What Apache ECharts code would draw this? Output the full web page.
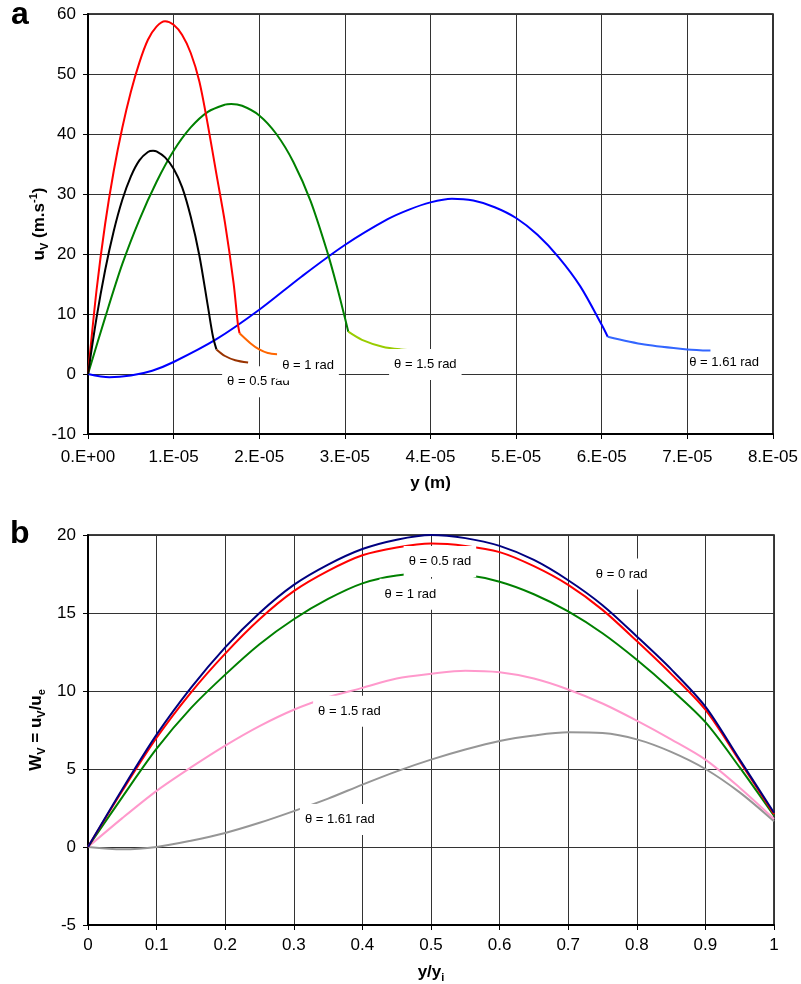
<!DOCTYPE html>
<html>
<head>
<meta charset="utf-8">
<script src="https://cdn.jsdelivr.net/npm/echarts@6/dist/echarts.min.js"></script>
<style>
html,body{margin:0;padding:0;background:#fff;}
#chart{width:801px;height:984px;}
</style>
</head>
<body>
<div id="chart"></div>
<script>
// ---------- Panel a : u_V (m/s) versus y (m) ----------
const aXTicks = [0, 1e-5, 2e-5, 3e-5, 4e-5, 5e-5, 6e-5, 7e-5, 8e-5];
const aYTicks = [-10, 0, 10, 20, 30, 40, 50, 60];

const theta05Main = [[0,0],[0.1e-5,9.4],[0.2e-5,17.3],[0.3e-5,23.8],[0.4e-5,29.0],[0.5e-5,32.9],[0.6e-5,35.6],[0.7e-5,37.0],[0.76e-5,37.2],[0.8e-5,37.1],[0.9e-5,36.1],[1.0e-5,34.2],[1.1e-5,31.1],[1.2e-5,26.2],[1.3e-5,19.8],[1.4e-5,11.3],[1.46e-5,6.2],[1.5e-5,4.1]];
const theta05Tail = [[1.5e-5,4.1],[1.6e-5,3.0],[1.72e-5,2.3],[1.87e-5,1.9]];
const theta1Main  = [[0,0],[0.1e-5,14.0],[0.2e-5,25.0],[0.3e-5,33.8],[0.4e-5,41.0],[0.5e-5,47.0],[0.6e-5,51.9],[0.7e-5,55.7],[0.8e-5,57.9],[0.9e-5,58.8],[1.0e-5,58.2],[1.1e-5,56.5],[1.2e-5,53.5],[1.3e-5,48.8],[1.4e-5,41.5],[1.5e-5,33.3],[1.6e-5,25.2],[1.7e-5,15.2],[1.75e-5,8.4],[1.77e-5,6.8]];
const theta1Tail  = [[1.77e-5,6.8],[1.9e-5,5.1],[2.0e-5,4.1],[2.1e-5,3.5],[2.21e-5,3.3]];
const theta15Main = [[0,0],[0.2e-5,9.4],[0.4e-5,18.3],[0.6e-5,25.7],[0.8e-5,32.0],[1.0e-5,37.2],[1.2e-5,41.1],[1.4e-5,43.7],[1.6e-5,44.9],[1.673e-5,45.0],[1.8e-5,44.7],[2.0e-5,43.1],[2.2e-5,40.0],[2.4e-5,35.3],[2.6e-5,28.8],[2.8e-5,20.1],[2.9e-5,15.0],[3.0e-5,9.4],[3.04e-5,7.05]];
const theta15Tail = [[3.04e-5,7.05],[3.2e-5,5.7],[3.44e-5,4.55],[3.65e-5,4.1],[3.85e-5,3.9]];
const theta161Main = [[0,0],[0.25e-5,-0.55],[0.5e-5,-0.25],[0.75e-5,0.55],[1.0e-5,2.0],[1.5e-5,5.8],[2.0e-5,10.7],[2.5e-5,16.3],[3.0e-5,21.5],[3.5e-5,25.8],[3.75e-5,27.4],[4.0e-5,28.6],[4.25e-5,29.2],[4.5e-5,28.9],[4.75e-5,27.8],[5.0e-5,26.0],[5.25e-5,23.2],[5.5e-5,19.4],[5.75e-5,14.6],[6.0e-5,8.2],[6.07e-5,6.2]];
const theta161Tail = [[6.07e-5,6.2],[6.5e-5,4.9],[7.0e-5,4.1],[7.27e-5,3.9]];

// ---------- Panel b : W_V = u_V/u_e versus y/y_i ----------
const bXTicks = [0,0.1,0.2,0.3,0.4,0.5,0.6,0.7,0.8,0.9,1];
const bYTicks = [-5,0,5,10,15,20];
const bX        = [0,0.05,0.1,0.15,0.2,0.25,0.3,0.35,0.4,0.45,0.5,0.55,0.6,0.65,0.7,0.75,0.8,0.85,0.9,0.95,1.0];
const wTheta0   = [0,3.7,7.2,10.2,12.8,15.0,16.8,18.1,19.1,19.7,20.0,19.8,19.3,18.4,17.1,15.5,13.5,11.4,9.0,5.6,2.2];
const wTheta05  = [0,3.6,7.0,9.9,12.4,14.6,16.4,17.7,18.7,19.2,19.45,19.3,18.9,18.0,16.8,15.2,13.2,11.1,8.8,5.5,2.1];
const wTheta1   = [0,3.2,6.3,8.9,11.05,13.0,14.6,15.9,16.9,17.4,17.55,17.45,17.0,16.2,15.1,13.7,12.0,10.1,8.0,5.1,2.0];
const wTheta15  = [0,1.85,3.6,5.1,6.5,7.75,8.8,9.6,10.2,10.8,11.1,11.3,11.2,10.8,10.1,9.2,8.1,6.9,5.6,3.8,1.8];
const wTheta161 = [0,-0.15,0,0.4,0.9,1.55,2.3,3.1,4.0,4.85,5.6,6.25,6.8,7.15,7.35,7.3,6.9,6.1,5.0,3.5,1.65];

const FONT = 'Liberation Sans, Arial, Helvetica, sans-serif';

function pairs(xs, ys){ return xs.map((x,i)=>[x, ys[i]]); }

function labelMark(coord, text, withBg, z){
  return {
    symbol: 'rect', symbolSize: 1, silent: true, z: z || 5,
    itemStyle: {color: 'rgba(0,0,0,0)'},
    data: [{
      coord: coord,
      label: {
        show: true, position: 'inside', formatter: text,
        color: '#000', fontSize: 13, fontFamily: FONT,
        backgroundColor: withBg ? '#fff' : 'transparent',
        padding: withBg ? [9, 5] : 0
      }
    }]
  };
}

function line(name, data, color, xi, mark){
  const s = {
    name: name, type: 'line', data: data, xAxisIndex: xi, yAxisIndex: xi,
    showSymbol: false, symbol: 'none', smooth: 0.3, clip: false,
    lineStyle: {color: color, width: 2}, itemStyle: {color: color},
    emphasis: {disabled: true}, silent: true
  };
  if (mark) s.markPoint = mark;
  return s;
}

const axisCommon = {
  type: 'value',
  axisLine: {show: true, onZero: false, lineStyle: {color: '#000', width: 2}},
  axisTick: {show: true, length: 5, lineStyle: {color: '#000', width: 1}},
  splitLine: {show: true, lineStyle: {color: '#333', width: 1}},
  nameLocation: 'middle',
  nameMoveOverlap: false
};

const labelStyle = {fontSize: 17, color: '#000', fontFamily: FONT};
const nameRich = {
  b: {fontSize: 17, fontWeight: 'bold', color: '#000', lineHeight: 22, fontFamily: FONT},
  sub: {fontSize: 11, fontWeight: 'bold', color: '#000', lineHeight: 11, verticalAlign: 'bottom', fontFamily: FONT},
  sup: {fontSize: 11, fontWeight: 'bold', color: '#000', lineHeight: 11, verticalAlign: 'top', fontFamily: FONT}
};

const chart = echarts.init(document.getElementById('chart'), null, {renderer: 'canvas'});
const option = {
  animation: false,
  backgroundColor: '#fff',
  textStyle: {fontFamily: FONT},
  grid: [
    {left: 88, top: 14, width: 686, height: 420, show: true, borderColor: '#000', borderWidth: 1.5, backgroundColor: 'transparent'},
    {left: 88, top: 535, width: 686, height: 391, show: true, borderColor: '#000', borderWidth: 1.5, backgroundColor: 'transparent'}
  ],
  xAxis: [
    Object.assign({}, axisCommon, {
      gridIndex: 0, min: aXTicks[0], max: aXTicks[aXTicks.length-1], interval: aXTicks[1]-aXTicks[0],
      axisLabel: Object.assign({}, labelStyle, {margin: 15, formatter: v => {
        const n = Math.round(v*1e5); return n === 0 ? '0.E+00' : n + '.E-05'; }}),
      name: '{b|y (m)}', nameGap: 38,
      nameTextStyle: {color: '#000', fontFamily: FONT, rich: nameRich}
    }),
    Object.assign({}, axisCommon, {
      gridIndex: 1, min: bXTicks[0], max: bXTicks[bXTicks.length-1], interval: 0.1,
      axisLabel: Object.assign({}, labelStyle, {margin: 12}),
      name: '{b|y/y}{sub|i}', nameGap: 36,
      nameTextStyle: {color: '#000', fontFamily: FONT, rich: nameRich}
    })
  ],
  yAxis: [
    Object.assign({}, axisCommon, {
      gridIndex: 0, min: aYTicks[0], max: aYTicks[aYTicks.length-1], interval: 10,
      axisLabel: Object.assign({}, labelStyle, {margin: 12}),
      name: '{b|u}{sub|V}{b| (m.s}{sup|-1}{b|)}', nameGap: 38, nameRotate: 90,
      nameTextStyle: {color: '#000', fontFamily: FONT, rich: nameRich}
    }),
    Object.assign({}, axisCommon, {
      gridIndex: 1, min: bYTicks[0], max: bYTicks[bYTicks.length-1], interval: 5,
      axisLabel: Object.assign({}, labelStyle, {margin: 12}),
      name: '{b|W}{sub|V}{b| = u}{sub|V}{b|/u}{sub|e}', nameGap: 41, nameRotate: 90,
      nameTextStyle: {color: '#000', fontFamily: FONT, rich: nameRich}
    })
  ],
  series: [
    line('θ = 1.61 rad', theta161Main, '#0000FF', 0),
    line('θ = 1.61 rad tail', theta161Tail, '#3366FF', 0, labelMark([7.43e-5, 1.9], 'θ = 1.61 rad', false)),
    line('θ = 1.5 rad', theta15Main, '#008000', 0),
    line('θ = 1.5 rad tail', theta15Tail, '#99CC00', 0, labelMark([3.94e-5, 1.6], 'θ = 1.5 rad', true)),
    line('θ = 1 rad', theta1Main, '#FF0000', 0),
    line('θ = 1 rad tail', theta1Tail, '#FF6600', 0, labelMark([2.57e-5, 1.5], 'θ = 1 rad', true, 7)),
    line('θ = 0.5 rad', theta05Main, '#000000', 0),
    line('θ = 0.5 rad tail', theta05Tail, '#993300', 0, labelMark([1.99e-5, -1.3], 'θ = 0.5 rad', true, 6)),

    line('b θ = 1.61 rad', pairs(bX, wTheta161), '#969696', 1, labelMark([0.367, 1.77], 'θ = 1.61 rad', true)),
    line('b θ = 1.5 rad', pairs(bX, wTheta15), '#FF99CC', 1, labelMark([0.381, 8.7], 'θ = 1.5 rad', true)),
    line('b θ = 1 rad', pairs(bX, wTheta1), '#008000', 1, labelMark([0.47, 16.2], 'θ = 1 rad', true)),
    line('b θ = 0.5 rad', pairs(bX, wTheta05), '#FF0000', 1, labelMark([0.513, 18.3], 'θ = 0.5 rad', true)),
    line('b θ = 0 rad', pairs(bX, wTheta0), '#000080', 1, labelMark([0.778, 17.5], 'θ = 0 rad', true))
  ],
  graphic: [
    {type: 'text', x: 11, y: 15.5, style: {text: 'a', font: 'bold 32px ' + FONT, fill: '#000', verticalAlign: 'middle'}},
    {type: 'text', x: 10, y: 534.5, style: {text: 'b', font: 'bold 32px ' + FONT, fill: '#000', verticalAlign: 'middle'}}
  ]
};
chart.setOption(option);
</script>
</body>
</html>
